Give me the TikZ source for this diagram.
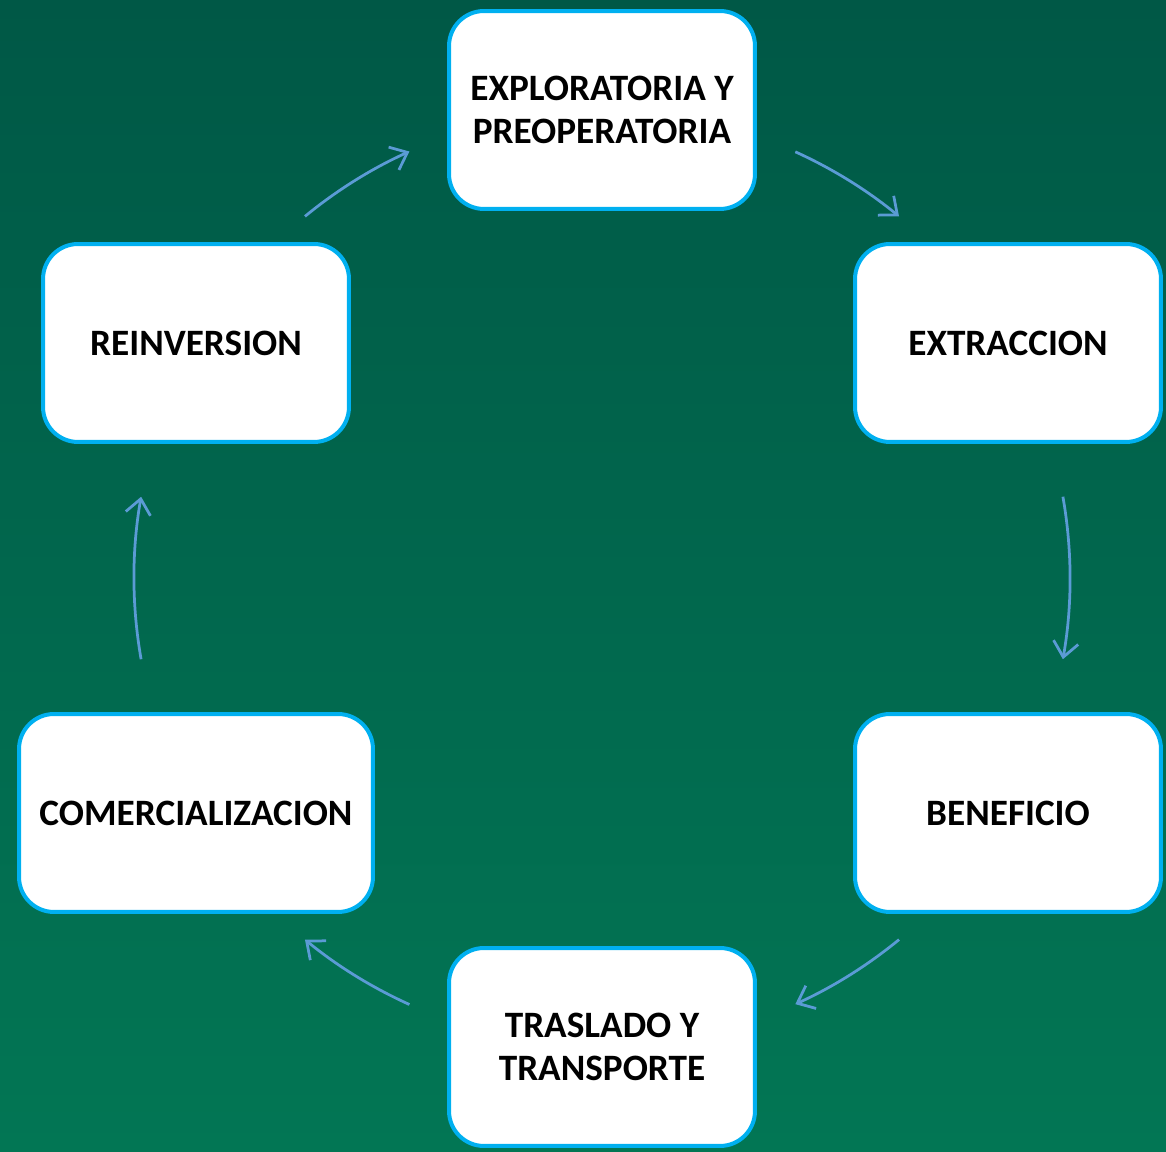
\documentclass[tikz,border=0pt]{standalone}
\usepackage{fontspec}
\setmainfont{Carlito}
\usetikzlibrary{arrows.meta, calc, positioning}

\definecolor{fondoA}{RGB}{0,88,70}
\definecolor{fondoB}{RGB}{2,118,84}
\definecolor{borde}{RGB}{0,176,240}
\definecolor{flecha}{RGB}{91,155,213}

\tikzset{
  etapa/.style={draw=borde, line width=0.08cm, fill=white, rounded corners=0.7cm,
    minimum width=6.12cm, minimum height=3.96cm, align=center,
    font=\fontsize{21.2}{24.2}\selectfont\bfseries, text=black},
  ciclo/.style={draw=flecha, line width=0.055cm, ->}
}

\begin{document}
\begin{tikzpicture}[x=0.02cm, y=0.02cm, >={Straight Barb[length=0.3cm, width=0.5cm, line width=0.055cm]}]
        % Fondo verde
        \shade[top color=fondoA, bottom color=fondoB] (0,0) rectangle (1166,1152);
        \useasboundingbox (0,0) rectangle (1166,1152);

        % Etapas del ciclo
        \node[etapa] (explo) at (602,1042) {EXPLORATORIA Y\\PREOPERATORIA};
        \node[etapa] (extra) at (1008,809) {EXTRACCION};
        \node[etapa] (benef) at (1008,339) {BENEFICIO};
        \node[etapa] (trasl) at (602,105) {TRASLADO Y\\TRANSPORTE};
        \node[etapa, minimum width=7.08cm] (comer) at (196,339) {COMERCIALIZACION};
        \node[etapa] (reinv) at (196,809) {REINVERSION};

        % Centro del ciclo
        \coordinate (ctr) at (602,574);
        \coordinate (f1) at ($(ctr)+(129.4:468)$);
        \coordinate (f2) at ($(ctr)+(65.6:468)$);
        \coordinate (f3) at ($(ctr)+(10:468)$);
        \coordinate (f4) at ($(ctr)+(-50.6:468)$);
        \coordinate (f5) at ($(ctr)+(-114.3:468)$);
        \coordinate (f6) at ($(ctr)+(-170:468)$);

        % Flechas
        \draw[ciclo] (f1) arc[start angle=129.4, end angle=114.3, radius=9.36cm];
        \draw[ciclo] (f2) arc[start angle=65.6, end angle=50.6, radius=9.36cm];
        \draw[ciclo] (f3) arc[start angle=10, end angle=-10, radius=9.36cm];
        \draw[ciclo] (f4) arc[start angle=-50.6, end angle=-65.6, radius=9.36cm];
        \draw[ciclo] (f5) arc[start angle=-114.3, end angle=-129.4, radius=9.36cm];
        \draw[ciclo] (f6) arc[start angle=-170, end angle=-190, radius=9.36cm];
\end{tikzpicture}
\end{document}
